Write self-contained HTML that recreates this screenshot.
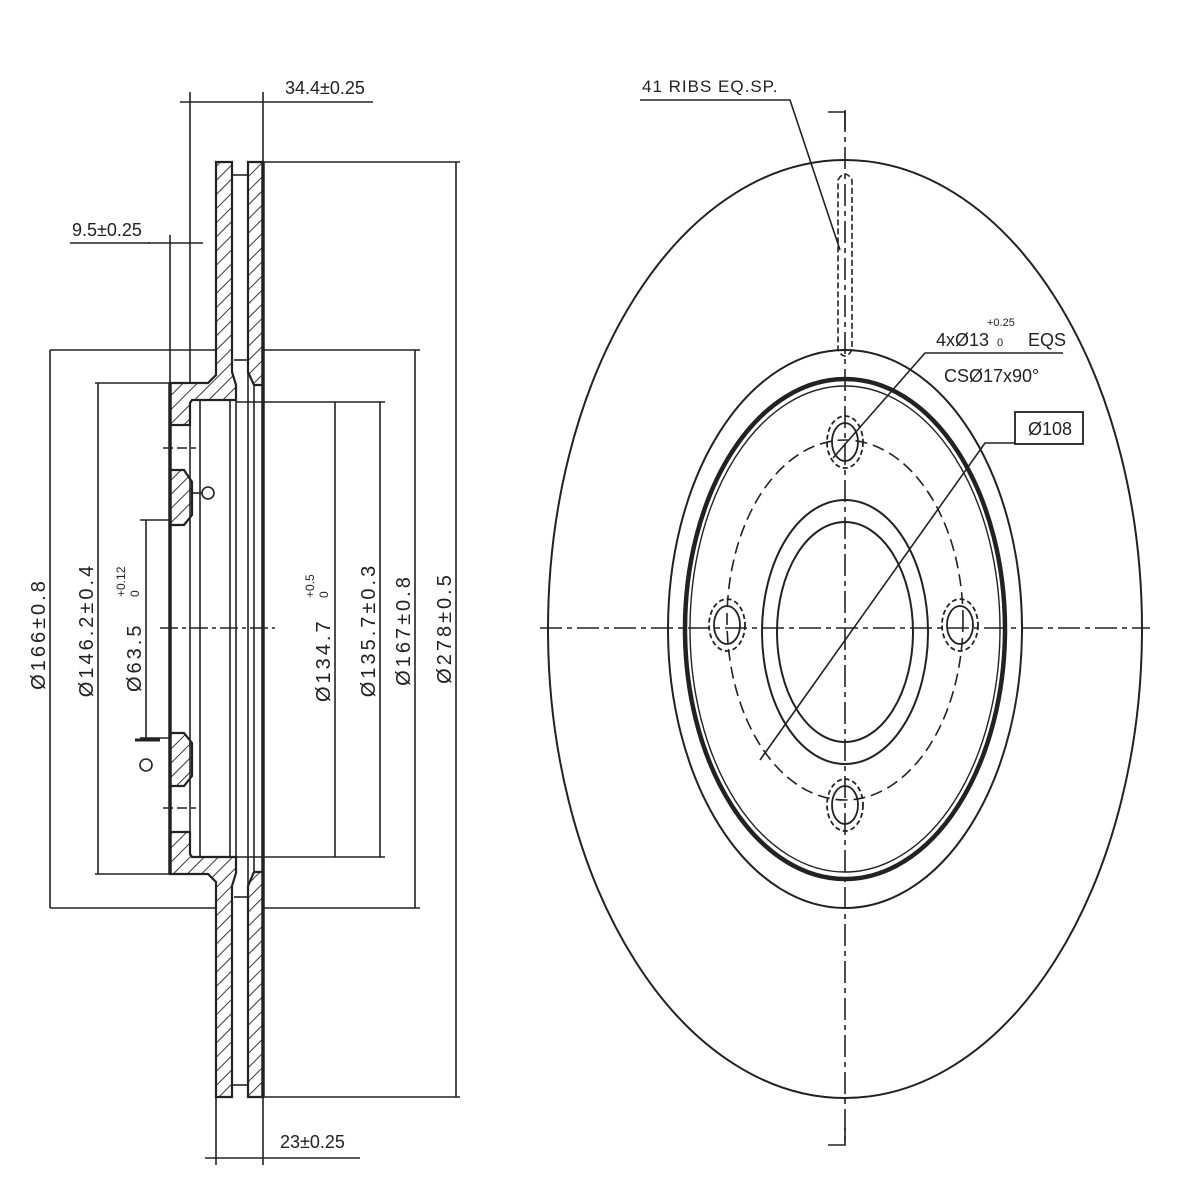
<!DOCTYPE html>
<html><head><meta charset="utf-8"><style>
html,body{margin:0;padding:0;background:#fff;}
svg{display:block;}
text{font-family:"Liberation Sans",sans-serif;fill:#222;}
</style></head><body>
<svg width="1200" height="1200" viewBox="0 0 1200 1200" xmlns="http://www.w3.org/2000/svg">
<defs>
<pattern id="h" patternUnits="userSpaceOnUse" width="10" height="10" patternTransform="rotate(45)">
<rect width="10" height="10" fill="#fff"/><line x1="0" y1="0" x2="0" y2="10" stroke="#222" stroke-width="1.8"/>
</pattern>
</defs>
<g stroke="#222" fill="none" stroke-width="1.6">
<path d="M216 162 L232 162 L232 372 L236 385 L236 400 L192 400 L190 403 L190 425 L170 425 L170 383 L208 383 L216 375 Z" fill="url(#h)" stroke-width="2.2"/>
<path d="M216 1097 L232 1097 L232 886 L236 873 L236 857 L192 857 L190 854 L190 832 L170 832 L170 874 L208 874 L216 882 Z" fill="url(#h)" stroke-width="2.2"/>
<path d="M248 162 L263 162 L263 385 L254 385 L248 372 Z" fill="url(#h)" stroke-width="2.2"/>
<path d="M248 1097 L263 1097 L263 872 L254 872 L248 886 Z" fill="url(#h)" stroke-width="2.2"/>
<path d="M170 470 L184 470 L192 482 L192 515 L184 525 L170 525 Z" fill="url(#h)" stroke-width="2.2"/>
<path d="M170 733 L184 733 L192 743 L192 776 L184 786 L170 786 Z" fill="url(#h)" stroke-width="2.2"/>
<line x1="170" y1="383" x2="170" y2="874" stroke-width="3.5"/>
<line x1="190" y1="425" x2="190" y2="832"/>
<line x1="200" y1="400" x2="200" y2="857"/>
<line x1="230" y1="400" x2="230" y2="857"/>
<line x1="236" y1="385" x2="236" y2="872"/>
<line x1="248" y1="372" x2="248" y2="886"/>
<line x1="254" y1="385" x2="254" y2="872"/>
<line x1="263" y1="162" x2="263" y2="1097" stroke-width="3.5"/>
<line x1="232" y1="175" x2="248" y2="175"/><line x1="232" y1="1085" x2="248" y2="1085"/>
<line x1="234" y1="360" x2="248" y2="360"/><line x1="234" y1="897" x2="248" y2="897"/>
<line x1="232" y1="162" x2="232" y2="372"/><line x1="232" y1="886" x2="232" y2="1097"/>
<line x1="263" y1="162" x2="460" y2="162"/>
<line x1="263" y1="1097" x2="460" y2="1097"/>
<line x1="50" y1="350" x2="216" y2="350"/><line x1="263" y1="350" x2="420" y2="350"/>
<line x1="50" y1="908" x2="216" y2="908"/><line x1="263" y1="908" x2="420" y2="908"/>
<line x1="95" y1="383" x2="170" y2="383"/><line x1="95" y1="874" x2="170" y2="874"/>
<line x1="236" y1="402" x2="385" y2="402"/><line x1="236" y1="857" x2="385" y2="857"/>
<line x1="140" y1="520" x2="170" y2="520"/><line x1="140" y1="738" x2="170" y2="738"/>
<line x1="50" y1="350" x2="50" y2="908"/>
<line x1="98" y1="383" x2="98" y2="874"/>
<line x1="146" y1="520" x2="146" y2="738"/>
<line x1="335" y1="402" x2="335" y2="857"/>
<line x1="380" y1="402" x2="380" y2="857"/>
<line x1="415" y1="350" x2="415" y2="908"/>
<line x1="456" y1="162" x2="456" y2="1097"/>
<line x1="160" y1="628" x2="275" y2="628" stroke-dasharray="18 4 4 4"/>
<line x1="163" y1="448" x2="196" y2="448" stroke-dasharray="10 4"/>
<line x1="163" y1="808" x2="196" y2="808" stroke-dasharray="10 4"/>
<line x1="190" y1="92" x2="190" y2="383"/>
<line x1="263" y1="92" x2="263" y2="162"/>
<line x1="180" y1="102" x2="373" y2="102"/>
<line x1="170" y1="235" x2="170" y2="383"/>
<line x1="148" y1="243" x2="203" y2="243"/>
<line x1="70" y1="243" x2="150" y2="243"/>
<line x1="216" y1="1097" x2="216" y2="1165"/>
<line x1="263" y1="1097" x2="263" y2="1165"/>
<line x1="205" y1="1158" x2="360" y2="1158"/>
<circle cx="208" cy="493" r="6"/><line x1="192" y1="493" x2="202" y2="493"/>
<circle cx="146" cy="765" r="6"/>
<line x1="135" y1="740" x2="160" y2="740" stroke-width="3"/>
<ellipse cx="845" cy="629" rx="297" ry="469" stroke-width="2"/>
<ellipse cx="845" cy="629" rx="177" ry="279" stroke-width="2"/>
<ellipse cx="845" cy="629" rx="160" ry="250" stroke-width="4.5"/>
<ellipse cx="845" cy="629" rx="155" ry="243" stroke-width="1.4"/>
<ellipse cx="845" cy="620" rx="118" ry="180" stroke-dasharray="12 6"/>
<ellipse cx="845" cy="632" rx="83" ry="132" stroke-width="2"/>
<ellipse cx="845" cy="632" rx="68" ry="110" stroke-width="2"/>
<g stroke-width="1.8">
<ellipse cx="845" cy="442" rx="13" ry="19"/><ellipse cx="845" cy="442" rx="18" ry="26" stroke-dasharray="5 3"/>
<ellipse cx="727" cy="625" rx="13" ry="19"/><ellipse cx="727" cy="625" rx="18" ry="26" stroke-dasharray="5 3"/>
<ellipse cx="960" cy="625" rx="13" ry="19"/><ellipse cx="960" cy="625" rx="18" ry="26" stroke-dasharray="5 3"/>
<ellipse cx="845" cy="805" rx="13" ry="19"/><ellipse cx="845" cy="805" rx="18" ry="26" stroke-dasharray="5 3"/>
</g>
<line x1="540" y1="628" x2="1150" y2="628" stroke-dasharray="22 5 5 5"/>
<line x1="845" y1="110" x2="845" y2="1145" stroke-dasharray="22 5 5 5"/>
<polyline points="828,112 845,112 845,130"/>
<polyline points="828,1145 845,1145 845,1128"/>
<path d="M838 180 Q845 168 852 180 L852 350 Q845 362 838 350 Z" stroke-dasharray="6 3"/>
<polyline points="640,100 790,100 840,250"/>
<polyline points="1063,353 925,353 833,458"/>
<polyline points="1015,443 985,443 760,760"/>
<rect x="1015" y="412" width="68" height="32" stroke-width="1.8"/>
</g>
<g font-size="16">
<text x="285" y="94" font-size="18">34.4±0.25</text>
<text x="72" y="236" font-size="18">9.5±0.25</text>
<text x="280" y="1148" font-size="18">23±0.25</text>
<text x="642" y="92" font-size="17" letter-spacing="1">41 RIBS EQ.SP.</text>
<text x="936" y="346" font-size="18">4xØ13</text>
<text x="987" y="326" font-size="11">+0.25</text>
<text x="997" y="346" font-size="11">0</text>
<text x="1028" y="346" font-size="18">EQS</text>
<text x="944" y="382" font-size="18">CSØ17x90°</text>
<text x="1028" y="435" font-size="18">Ø108</text>
<g font-size="20" letter-spacing="3" text-anchor="middle">
<text transform="translate(45 634) rotate(-90)">Ø166±0.8</text>
<text transform="translate(93 630) rotate(-90)">Ø146.2±0.4</text>
<text transform="translate(375 630) rotate(-90)">Ø135.7±0.3</text>
<text transform="translate(410 630) rotate(-90)">Ø167±0.8</text>
<text transform="translate(451 628) rotate(-90)">Ø278±0.5</text>
</g>
<g font-size="20" letter-spacing="3">
<text transform="translate(141 692) rotate(-90)">Ø63.5</text>
<text transform="translate(330 702) rotate(-90)">Ø134.7</text>
</g>
<g font-size="12">
<text transform="translate(125 597) rotate(-90)">+0.12</text>
<text transform="translate(139 597) rotate(-90)">0</text>
<text transform="translate(314 598) rotate(-90)">+0.5</text>
<text transform="translate(328 598) rotate(-90)">0</text>
</g>
</g>
</svg>
</body></html>
